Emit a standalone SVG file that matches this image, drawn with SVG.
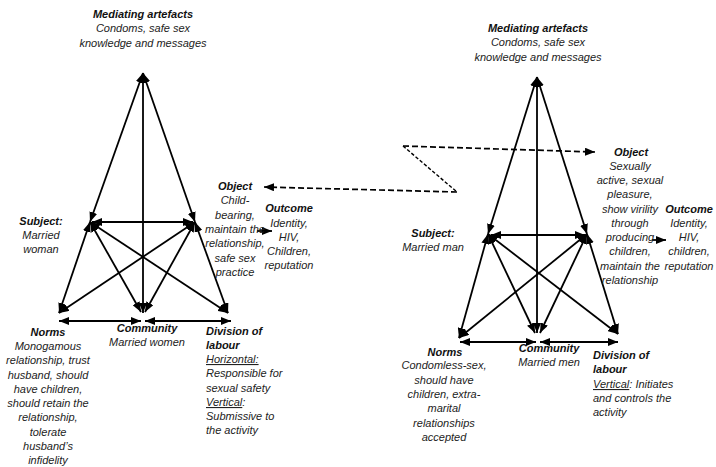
<svg xmlns="http://www.w3.org/2000/svg" width="716" height="467" viewBox="0 0 716 467">
<style>
.t{font-family:"Liberation Sans",Arial,sans-serif;font-size:11px;font-style:italic;fill:#222}
.b{font-weight:bold;fill:#111}
.c{text-anchor:middle}
.u{text-decoration:underline}
.l{stroke:#000;stroke-width:1.8;fill:none}
.d{stroke:#000;stroke-width:1.7;fill:none;stroke-dasharray:6 3}
.dd{stroke:#000;stroke-width:1.4;fill:none;stroke-dasharray:3.5 2}
</style>
<defs>
<marker id="a" viewBox="0 0 10 8" refX="10" refY="4" markerWidth="10" markerHeight="8" markerUnits="userSpaceOnUse" orient="auto-start-reverse"><path d="M0,0 L10,4 L0,8 z" fill="#000"/></marker>
</defs>
<rect width="716" height="467" fill="#fff"/>
<g id="connectors">
<g marker-start="url(#a)" marker-end="url(#a)" class="l">
<line x1="143" y1="73" x2="90" y2="222"/>
<line x1="143" y1="73" x2="195" y2="222"/>
<line x1="143" y1="73" x2="143" y2="313"/>
<line x1="92" y1="222" x2="193" y2="222"/>
<line x1="90" y1="222" x2="59" y2="313"/>
<line x1="90" y1="222" x2="141" y2="312"/>
<line x1="90" y1="222" x2="228" y2="313"/>
<line x1="195" y1="222" x2="59" y2="313"/>
<line x1="195" y1="222" x2="145" y2="312"/>
<line x1="195" y1="222" x2="228" y2="313"/>
<line x1="59" y1="321" x2="141" y2="321"/>
<line x1="145" y1="321" x2="231" y2="321"/>
<line x1="537" y1="77" x2="488" y2="234"/>
<line x1="537" y1="77" x2="587" y2="234"/>
<line x1="537" y1="77" x2="537" y2="333"/>
<line x1="491" y1="235" x2="585" y2="235"/>
<line x1="488" y1="234" x2="459" y2="338"/>
<line x1="488" y1="234" x2="535" y2="333"/>
<line x1="488" y1="234" x2="618" y2="334"/>
<line x1="587" y1="234" x2="459" y2="338"/>
<line x1="587" y1="234" x2="540" y2="333"/>
<line x1="587" y1="234" x2="618" y2="334"/>
<line x1="460" y1="342" x2="536" y2="342"/>
<line x1="540" y1="342" x2="618" y2="342"/>
</g>
<line class="l" x1="257" y1="231" x2="272" y2="231" marker-end="url(#a)"/>
<line class="l" x1="652" y1="240" x2="666" y2="240" marker-end="url(#a)"/>
<line class="d" x1="457" y1="192" x2="264" y2="187" marker-end="url(#a)"/>
<line class="dd" x1="403" y1="146" x2="457" y2="192"/>
<line class="d" x1="403" y1="146" x2="595" y2="152" marker-end="url(#a)"/>
</g>
<g id="left-mediating" class="t c">
<text x="143" y="18" class="b">Mediating artefacts</text>
<text x="143" y="32">Condoms, safe sex</text>
<text x="143" y="47">knowledge and messages</text>
</g>
<g id="left-subject" class="t c">
<text x="41" y="225" class="b">Subject:</text>
<text x="41" y="239">Married</text>
<text x="41" y="253">woman</text>
</g>
<g id="left-object" class="t c">
<text x="235" y="190" class="b">Object</text>
<text x="235" y="204">Child-</text>
<text x="235" y="218.5">bearing,</text>
<text x="235" y="233">maintain the</text>
<text x="235" y="247">relationship,</text>
<text x="235" y="261.5">safe sex</text>
<text x="235" y="276">practice</text>
</g>
<g id="left-outcome" class="t c">
<text x="289" y="212" class="b">Outcome</text>
<text x="289" y="227">Identity,</text>
<text x="289" y="241">HIV,</text>
<text x="289" y="255">Children,</text>
<text x="289" y="269">reputation</text>
</g>
<g id="left-norms" class="t c">
<text x="48" y="336" class="b">Norms</text>
<text x="48" y="350">Monogamous</text>
<text x="48" y="364">relationship, trust</text>
<text x="48" y="379">husband, should</text>
<text x="48" y="393">have children,</text>
<text x="48" y="407">should retain the</text>
<text x="48" y="421">relationship,</text>
<text x="48" y="436">tolerate</text>
<text x="48" y="450">husband’s</text>
<text x="48" y="464">infidelity</text>
</g>
<g id="left-community" class="t c">
<text x="147" y="332" class="b">Community</text>
<text x="147" y="346">Married women</text>
</g>
<g id="left-division" class="t">
<text x="206" y="335" class="b">Division of</text>
<text x="206" y="349" class="b">labour</text>
<text x="206" y="363" class="u">Horizontal:</text>
<text x="206" y="377">Responsible for</text>
<text x="206" y="392">sexual safety</text>
<text x="206" y="406"><tspan class="u">Vertical</tspan>:</text>
<text x="206" y="420">Submissive to</text>
<text x="206" y="434">the activity</text>
</g>
<g id="right-mediating" class="t c">
<text x="538" y="32" class="b">Mediating artefacts</text>
<text x="538" y="46">Condoms, safe sex</text>
<text x="538" y="61">knowledge and messages</text>
</g>
<g id="right-object" class="t c">
<text x="631" y="156" class="b">Object</text>
<text x="630" y="170">Sexually</text>
<text x="630" y="184">active, sexual</text>
<text x="630" y="198">pleasure,</text>
<text x="630" y="213">show virility</text>
<text x="630" y="227">through</text>
<text x="630" y="241">producing</text>
<text x="630" y="255">children,</text>
<text x="630" y="270">maintain the</text>
<text x="630" y="284">relationship</text>
</g>
<g id="right-outcome" class="t c">
<text x="689" y="213" class="b">Outcome</text>
<text x="689" y="227">Identity,</text>
<text x="689" y="241">HIV,</text>
<text x="689" y="255">children,</text>
<text x="689" y="270">reputation</text>
</g>
<g id="right-subject" class="t c">
<text x="433" y="237" class="b">Subject:</text>
<text x="433" y="251">Married man</text>
</g>
<g id="right-norms" class="t c">
<text x="445" y="356" class="b">Norms</text>
<text x="444" y="369">Condomless-sex,</text>
<text x="444" y="384">should have</text>
<text x="444" y="398">children, extra-</text>
<text x="444" y="412">marital</text>
<text x="444" y="427">relationships</text>
<text x="444" y="441">accepted</text>
</g>
<g id="right-community" class="t c">
<text x="549" y="352" class="b">Community</text>
<text x="549" y="366">Married men</text>
</g>
<g id="right-division" class="t">
<text x="593" y="359" class="b">Division of</text>
<text x="593" y="373" class="b">labour</text>
<text x="593" y="388"><tspan class="u">Vertical</tspan>: Initiates</text>
<text x="593" y="402">and controls the</text>
<text x="593" y="416">activity</text>
</g>
</svg>
